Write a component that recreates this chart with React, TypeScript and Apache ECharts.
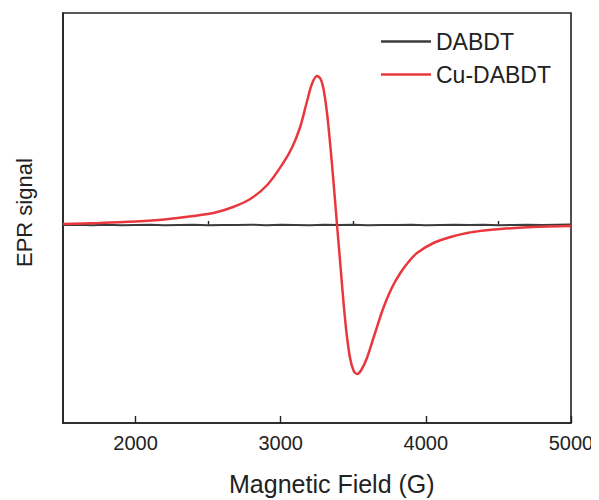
import React, { useEffect, useRef } from "react";
import * as echarts from "echarts";

// Magnetic field (G) and EPR signal (arb. units)
const fieldCu = [1500, 1750, 2000, 2200, 2400, 2550, 2672, 2790, 2907, 3017, 3080, 3134, 3180, 3215, 3250, 3275, 3295, 3319, 3340, 3362, 3388, 3410, 3433, 3455, 3479, 3503, 3526, 3555, 3594, 3650, 3707, 3765, 3824, 3880, 3939, 4052, 4170, 4284, 4400, 4514, 4741, 5000];
const signalCu = [1, 2, 3.5, 5.5, 9, 12.5, 18, 26, 40, 62, 78, 98, 123, 141, 149, 146, 136, 112, 82, 46, 0, -38, -78, -110, -134, -146, -149, -145, -133, -108, -83, -63, -48, -37, -28, -18, -12, -8, -5.5, -4, -2, -1];

const fieldDABDT = [1500, 1600, 1700, 1800, 1900, 2000, 2100, 2200, 2300, 2400, 2500, 2600, 2700, 2800, 2900, 3000, 3100, 3200, 3300, 3400, 3500, 3600, 3700, 3800, 3900, 4000, 4100, 4200, 4300, 4400, 4500, 4600, 4700, 4800, 4900, 5000];
const signalDABDT = [0, 0.3, -0.2, 0.2, -0.3, 0.1, 0.3, -0.2, 0, 0.2, -0.3, 0.1, -0.1, 0.3, -0.2, 0.2, 0, -0.3, 0.2, -0.1, 0.3, -0.2, 0.1, 0, 0.2, -0.3, 0.1, 0.3, -0.1, 0.2, -0.2, 0.1, 0.3, -0.1, 0.2, 0.4];

const majorTicks = [2000, 3000, 4000, 5000];
const minorTicks = [2500, 3500, 4500];

const FONT = "'Liberation Sans', Arial, Helvetica, sans-serif";

export default function App() {
  const ref = useRef<HTMLDivElement>(null);
  useEffect(() => {
    if (!ref.current) return;
    const chart = echarts.init(ref.current, null, { renderer: "svg" });
    const zip = (xs: number[], ys: number[]) => xs.map((x, i) => [x, ys[i]]);
    chart.setOption({
      animation: false,
      backgroundColor: "#ffffff",
      grid: {
        left: 63,
        right: 28,
        top: 13,
        bottom: 77,
        show: true,
        borderColor: "#222",
        borderWidth: 1.6,
        backgroundColor: "transparent",
      },
      legend: {
        orient: "vertical",
        left: 376,
        top: 25,
        icon: "rect",
        itemWidth: 50,
        itemHeight: 2.5,
        itemGap: 10,
        textStyle: { fontFamily: FONT, fontSize: 23, lineHeight: 23, color: "#222" },
        data: ["DABDT", "Cu-DABDT"],
      },
      xAxis: [
        {
          type: "value",
          min: 1500,
          max: 5000,
          position: "bottom",
          axisLine: { show: true, onZero: false, lineStyle: { color: "#222", width: 1.6 } },
          axisTick: {
            show: true,
            inside: true,
            length: 7,
            customValues: majorTicks,
            lineStyle: { color: "#222", width: 1.4 },
          },
          axisLabel: {
            show: true,
            customValues: majorTicks,
            formatter: (v: number) => String(v),
            fontFamily: FONT,
            fontSize: 20,
            color: "#222",
            margin: 10,
          },
          splitLine: { show: false },
        },
        {
          type: "value",
          min: 1500,
          max: 5000,
          position: "bottom",
          axisLine: { show: false },
          axisTick: {
            show: true,
            inside: true,
            length: 4,
            customValues: minorTicks,
            lineStyle: { color: "#222", width: 1.4 },
          },
          axisLabel: { show: false },
          splitLine: { show: false },
        },
      ],
      yAxis: {
        type: "value",
        min: -198,
        max: 212,
        axisLine: { show: true, lineStyle: { color: "#222", width: 1.6 } },
        axisTick: { show: false },
        axisLabel: { show: false },
        splitLine: { show: false },
      },
      graphic: [
        {
          type: "text",
          left: 229,
          top: 471,
          style: {
            text: "Magnetic Field (G)",
            fontFamily: FONT,
            fontSize: 25,
            fill: "#222",
          },
        },
        {
          type: "text",
          x: 13,
          y: 267,
          rotation: Math.PI / 2,
          style: {
            text: "EPR signal",
            fontFamily: FONT,
            fontSize: 22,
            fill: "#222",
            textVerticalAlign: "top",
          },
        },
      ],
      series: [
        {
          name: "DABDT",
          type: "line",
          data: zip(fieldDABDT, signalDABDT),
          symbol: "none",
          lineStyle: { color: "#3c3c3c", width: 2 },
          itemStyle: { color: "#3c3c3c" },
          z: 2,
        },
        {
          name: "Cu-DABDT",
          type: "line",
          data: zip(fieldCu, signalCu),
          symbol: "none",
          smooth: 0.3,
          lineStyle: { color: "#e8383e", width: 2.5 },
          itemStyle: { color: "#e8383e" },
          z: 3,
        },
      ],
    });
    return () => chart.dispose();
  }, []);
  return <div ref={ref} style={{ width: 599, height: 500, marginLeft: -8, marginTop: -8 }} />;
}
